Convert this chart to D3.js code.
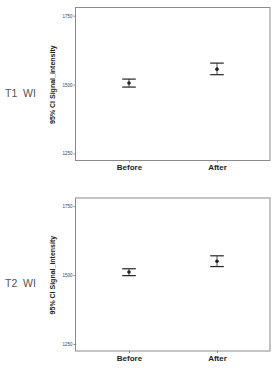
<!DOCTYPE html>
<html>
<head>
<meta charset="utf-8">
<script src="https://cdn.jsdelivr.net/npm/d3@7"></script>
<style>
    body { margin: 0; background: #fff; }
    svg { display: block; font-family: "Liberation Sans", Arial, sans-serif; }
</style>
</head>
<body>
<svg id="chart" width="273" height="368"></svg>
<script>
// groups on the x axis
const groups = ["Before", "After"];
const yTicks = [1250, 1500, 1750];

// T1 WI: mean with 95% CI
const t1Mean = [1506, 1556];
const t1Low = [1491, 1536];
const t1High = [1520, 1578];

// T2 WI
const t2Mean = [1511, 1550];
const t2Low = [1498, 1531];
const t2High = [1523, 1570];

const panels = [
    {label: "T1 WI", top: 7.5, mean: t1Mean, low: t1Low, high: t1High},
    {label: "T2 WI", top: 198, mean: t2Mean, low: t2Low, high: t2High}
];

let svg = d3.select("#chart");

function drawPanel(p) {
    const frameLeft = 75.5, frameRight = 270, frameH = 153;
    let g = svg.append("g").attr("transform", `translate(0,${p.top})`);

    let x = d3.scalePoint()
        .domain(groups)
        .range([129, 217]);
    let y = d3.scaleLinear()
        .domain([1250, 1750])
        .range([146, 8.2]);

    // frame
    g.append("rect")
        .attr("x", frameLeft)
        .attr("y", 0)
        .attr("width", frameRight - frameLeft)
        .attr("height", frameH)
        .attr("fill", "none")
        .attr("stroke", "#8a8a8a")
        .attr("stroke-width", 1);

    // y axis ticks
    let yAxis = g.append("g")
        .attr("transform", `translate(${frameLeft},0)`)
        .call(d3.axisLeft(y).tickValues(yTicks).tickSize(2).tickPadding(1).tickFormat(d3.format("d")));
    yAxis.select(".domain").remove();
    yAxis.selectAll("line").attr("stroke", "#888");
    yAxis.selectAll("text")
        .attr("font-size", "4.5px")
        .attr("fill", "#444");

    // x axis ticks
    let xAxis = g.append("g")
        .attr("transform", `translate(0,${frameH})`)
        .call(d3.axisBottom(x).tickSize(2).tickPadding(2));
    xAxis.select(".domain").remove();
    xAxis.selectAll("line").attr("stroke", "#888");
    xAxis.selectAll("text")
        .attr("font-size", "8px")
        .attr("font-weight", "bold")
        .attr("fill", "#222");

    // y axis title
    g.append("text")
        .attr("transform", `translate(55,${(y(1250) + y(1750)) / 2}) rotate(-90)`)
        .attr("text-anchor", "middle")
        .attr("font-size", "7px")
        .attr("font-weight", "bold")
        .attr("fill", "#222")
        .text("95% CI Signal_intensity");

    // row label
    g.append("text")
        .attr("x", 5)
        .attr("y", 89)
        .attr("font-size", "10.5px")
        .attr("fill", "#555")
        .attr("xml:space", "preserve")
        .style("white-space", "pre")
        .text(p.label.replace(" ", "  "));

    let data = groups.map((grp, i) => ({grp: grp, mean: p.mean[i], low: p.low[i], high: p.high[i]}));
    const cap = 6.8;
    let bars = g.selectAll(".errbar")
        .data(data)
        .enter()
        .append("g")
        .attr("class", "errbar");
    bars.append("line")
        .attr("x1", d => x(d.grp)).attr("x2", d => x(d.grp))
        .attr("y1", d => y(d.high)).attr("y2", d => y(d.low))
        .attr("stroke", "#222").attr("stroke-width", 0.8);
    bars.append("line")
        .attr("x1", d => x(d.grp) - cap).attr("x2", d => x(d.grp) + cap)
        .attr("y1", d => y(d.high)).attr("y2", d => y(d.high))
        .attr("stroke", "#222").attr("stroke-width", 1.2);
    bars.append("line")
        .attr("x1", d => x(d.grp) - cap).attr("x2", d => x(d.grp) + cap)
        .attr("y1", d => y(d.low)).attr("y2", d => y(d.low))
        .attr("stroke", "#222").attr("stroke-width", 1.2);
    bars.append("circle")
        .attr("cx", d => x(d.grp))
        .attr("cy", d => y(d.mean))
        .attr("r", 1.8)
        .attr("fill", "#222");
}

panels.forEach(drawPanel);
</script>
</body>
</html>
